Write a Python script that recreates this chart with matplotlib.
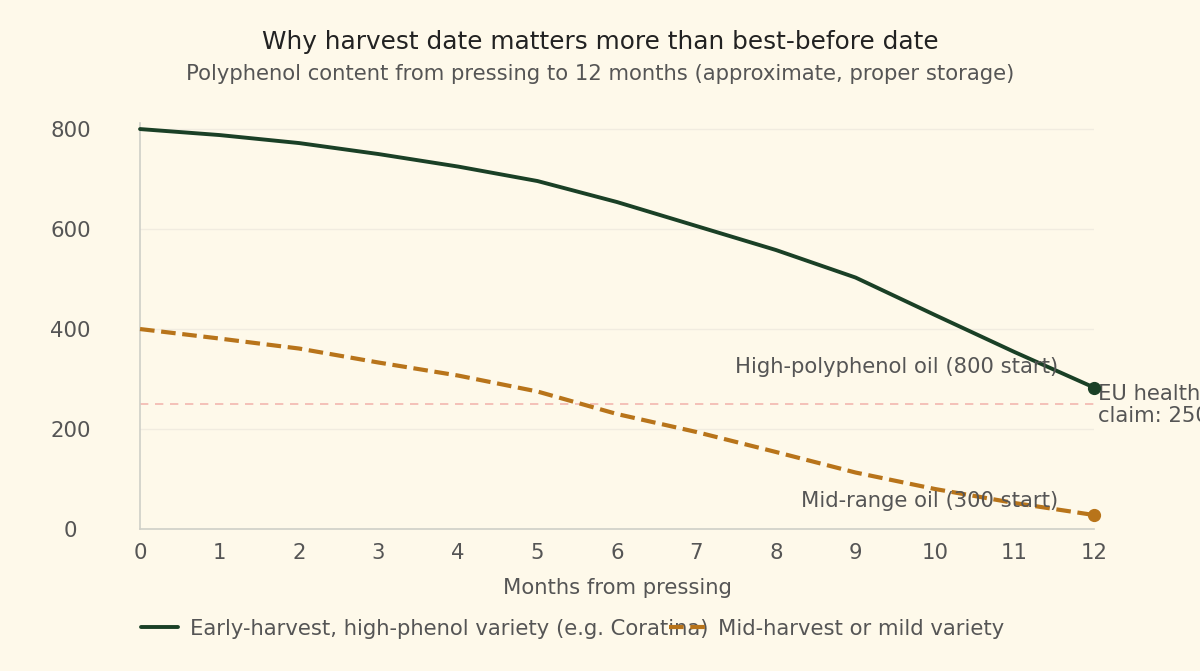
import matplotlib
matplotlib.use("Agg")
import matplotlib.pyplot as plt

# data
months = [0, 1, 2, 3, 4, 5, 6, 7, 8, 9, 10, 11, 12]
early_harvest = [800, 788, 772, 750, 725, 696, 654, 606, 558, 503, 428, 354, 283]
mid_harvest = [400, 381, 361, 333, 307, 275, 230, 194, 154, 113, 80, 52, 28]
eu_claim = 250
yticks = [0, 200, 400, 600, 800]

bg = "#fef9ea"
green = "#1a4026"
orange = "#b8741a"
grey = "#555555"

fig = plt.figure(figsize=(12, 6.71), dpi=100, facecolor=bg)
ax = fig.add_axes([0.1167, 0.2116, 0.795, 0.605])
ax.set_facecolor(bg)

for y in yticks[1:]:
    ax.axhline(y, color="#f1ece0", lw=1, zorder=0)

ax.axhline(eu_claim, color="#f2b8b0", lw=1.2, ls=(0, (5, 4)), zorder=1)

ax.plot(months, early_harvest, color=green, lw=2.8, solid_capstyle="round",
        label="Early-harvest, high-phenol variety (e.g. Coratina)", clip_on=False, zorder=3)
ax.plot(months, mid_harvest, color=orange, lw=3, ls=(0, (3.5, 1.6)),
        label="Mid-harvest or mild variety", clip_on=False, zorder=3)
ax.plot([months[-1]], [early_harvest[-1]], "o", color=green, ms=8.5, clip_on=False, zorder=4)
ax.plot([months[-1]], [mid_harvest[-1]], "o", color=orange, ms=8.5, clip_on=False, zorder=4)

ax.text(11.55, 325, "High-polyphenol oil (800 start)", ha="right", va="center",
        fontsize=15.2, color=grey)
ax.text(11.55, 56, "Mid-range oil (300 start)", ha="right", va="center",
        fontsize=15.2, color=grey)
# runs past the right edge in the original as well
ax.text(12.05, 248, "EU health\nclaim: 250", ha="left", va="center",
        fontsize=15.2, color=grey, linespacing=1.15, clip_on=False)

ax.set_xlim(0, 12)
ax.set_ylim(0, 812)
ax.set_xticks(months)
ax.set_yticks(yticks)
ax.tick_params(length=0, labelsize=15.3, colors=grey, pad=10)
ax.tick_params(axis="y", pad=50)
for lab in ax.get_yticklabels():
    lab.set_horizontalalignment("center")
for s in ["top", "right"]:
    ax.spines[s].set_visible(False)
for s in ["left", "bottom"]:
    ax.spines[s].set_color("#cfcfc8")
    ax.spines[s].set_linewidth(1.2)

ax.set_xlabel("Months from pressing", fontsize=15.2, color=grey, labelpad=11)

fig.text(0.5, 0.937, "Why harvest date matters more than best-before date",
         ha="center", va="center", fontsize=17.8, color="#222222")
fig.text(0.5, 0.889, "Polyphenol content from pressing to 12 months (approximate, proper storage)",
         ha="center", va="center", fontsize=15.2, color=grey)

leg = fig.legend(loc="center left", bbox_to_anchor=(0.1173, 0.063), ncol=2,
                 frameon=False, fontsize=15.2, handlelength=1.75, handletextpad=0.6,
                 columnspacing=-1.9, borderpad=0, borderaxespad=0)
for t in leg.get_texts():
    t.set_color(grey)

fig.savefig("out.png", dpi=100, facecolor=bg)
